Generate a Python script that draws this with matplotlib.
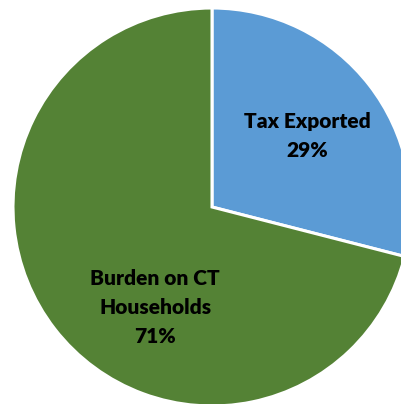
import matplotlib
matplotlib.use("Agg")
import matplotlib.pyplot as plt

categories = ["Tax Exported", "Burden on CT\nHouseholds"]
shares = [29, 71]
colors = ["#5B9BD5", "#548235"]

fig = plt.figure(figsize=(4.01, 4.04), dpi=100)
ax = fig.add_axes([13/401, -2/404, 398/401, 398/404])
wedges, _ = ax.pie(shares, colors=colors, startangle=90, counterclock=False,
                   radius=1.0, wedgeprops=dict(edgecolor="white", linewidth=2.2))
for w in wedges:
    w.set_clip_on(False)
ax.set_xlim(-1, 1)
ax.set_ylim(-1, 1)
ax.set_aspect("equal")
ax.axis("off")

label_pos = [(0.477, 0.355), (-0.286, -0.505)]
for cat, val, (x, y) in zip(categories, shares, label_pos):
    ax.text(x, y, f"{cat}\n{val}%", ha="center", va="center", fontsize=15,
            fontweight="heavy", family="Lato", linespacing=1.62, color="black")

fig.savefig("out.png", dpi=100)
